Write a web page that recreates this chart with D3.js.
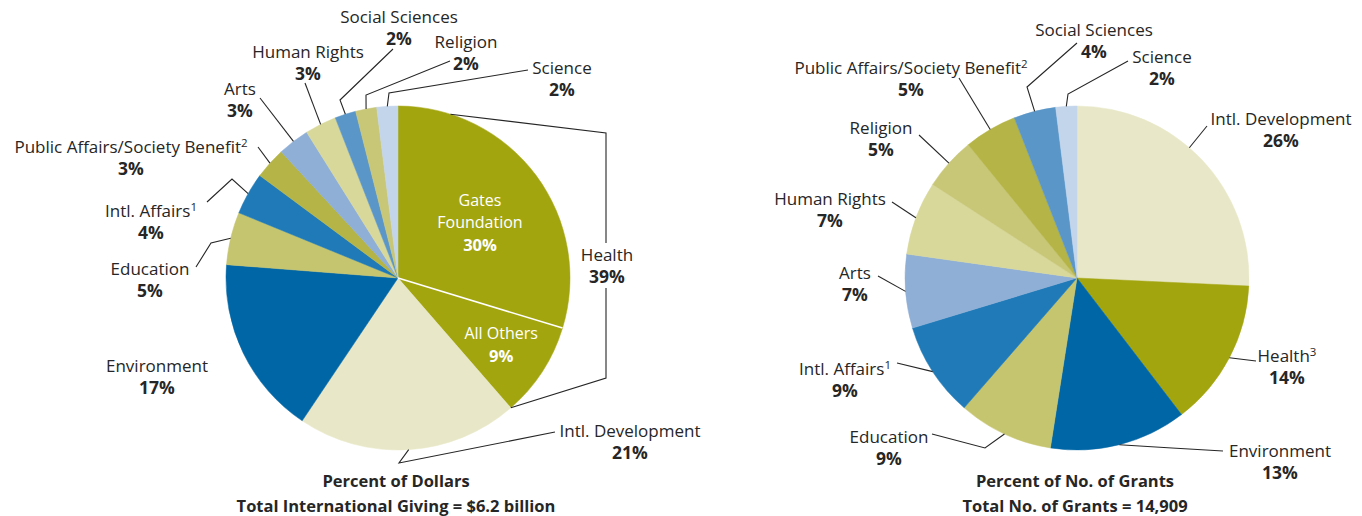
<!DOCTYPE html>
<html>
<head>
<meta charset="utf-8">
<script src="https://cdn.jsdelivr.net/npm/d3@7"></script>
<style>
  body { margin: 0; background: #fff; }
  svg text { font-family: "Open Sans", "Liberation Sans", sans-serif; fill: #262626; }
</style>
</head>
<body>
<svg id="chart" width="1362" height="516"></svg>
<script>
// left pie: percent of dollars
const dollarCats = ["Gates Foundation", "All Others", "Intl. Development", "Environment", "Education",
    "Intl. Affairs", "Public Affairs/Society Benefit", "Arts", "Human Rights", "Social Sciences", "Religion", "Science"];
const dollarValues = [30, 9, 21, 17, 5, 4, 3, 3, 3, 2, 2, 2];

// right pie: percent of number of grants
const grantCats = ["Intl. Development", "Health", "Environment", "Education", "Intl. Affairs", "Arts",
    "Human Rights", "Religion", "Public Affairs/Society Benefit", "Social Sciences", "Science"];
const grantValues = [26, 14, 13, 9, 9, 7, 7, 5, 5, 4, 2];

const captions = [
    ["Percent of Dollars", "Total International Giving = $6.2 billion"],
    ["Percent of No. of Grants", "Total No. of Grants = 14,909"]
];

// footnote marks on some labels
const footnoteMarks = { "Intl. Affairs": "1", "Public Affairs/Society Benefit": "2" };

const palette = {
    "Gates Foundation": "#a3a50f",
    "All Others": "#a3a50f",
    "Health": "#a3a50f",
    "Intl. Development": "#e8e8c9",
    "Environment": "#0066a6",
    "Education": "#c6c56f",
    "Intl. Affairs": "#1f7ab7",
    "Public Affairs/Society Benefit": "#b5b446",
    "Arts": "#8fafd6",
    "Human Rights": "#d8d89b",
    "Social Sciences": "#5b96c8",
    "Religion": "#c8c778",
    "Science": "#c3d5eb"
};

const svg = d3.select("#chart");
const radius = 172;
const fs = 17, fsBold = 17.5;

// label layout for each pie: label centre/baseline, then leader elbows (first point comes from the arc)
const leftLayout = {
    "Intl. Development": { x: 630, y: 437, leader: [[399, 463], [555, 432]] },
    "Environment": { x: 157, y: 372 },
    "Education": { x: 150, y: 275, leader: [[211, 243], [196, 267]] },
    "Intl. Affairs": { x: 151, y: 217, leader: [[232, 179], [207, 202]] },
    "Public Affairs/Society Benefit": { x: 131, y: 153, leader: [[258, 147]] },
    "Arts": { x: 240, y: 95, leader: [[260, 98]] },
    "Human Rights": { x: 308, y: 58, leader: [[305, 83]] },
    "Social Sciences": { x: 399, y: 23, leader: [[340, 100], [393, 49]] },
    "Religion": { x: 466, y: 48, leader: [[366, 95], [450, 61]] },
    "Science": { x: 562, y: 74, leader: [[389, 93], [528, 70]] }
};

const rightLayout = {
    "Intl. Development": { x: 1281, y: 125, at: 0.44, leader: [[1207, 126]] },
    "Health": { x: 1287, y: 362, sup: "3", leader: [[1256, 361]] },
    "Environment": { x: 1280, y: 457, leader: [[1172, 448], [1223, 451]] },
    "Education": { x: 889, y: 443, leader: [[985, 448], [932, 434]] },
    "Intl. Affairs": { x: 845, y: 375, leader: [[897, 363]] },
    "Arts": { x: 855, y: 279, leader: [[878, 276]] },
    "Human Rights": { x: 830, y: 205, leader: [[892, 202]] },
    "Religion": { x: 881, y: 134, leader: [[919, 135]] },
    "Public Affairs/Society Benefit": { x: 911, y: 74, leader: [[959, 78]] },
    "Social Sciences": { x: 1094, y: 36, leader: [[1027, 87], [1077, 43]] },
    "Science": { x: 1162, y: 63, leader: [[1068, 94], [1128, 61]] }
};

function addLabel(g, x, y, name, pct, sup) {
    const t = g.append("text").attr("text-anchor", "middle").attr("font-size", fs);
    t.append("tspan").attr("x", x).attr("y", y).text(name);
    if (sup) {
        t.append("tspan").attr("dy", -6).attr("font-size", 11.5).text(sup);
    }
    g.append("text").attr("text-anchor", "middle").attr("font-size", fsBold).attr("font-weight", "bold")
        .attr("x", x).attr("y", y + 21.5).text(pct);
}

function drawPie(cx, cy, cats, values, layout, caption) {
    const data = cats.map((c, i) => ({ name: c, value: values[i] }));
    const pie = d3.pie().sort(null).value(d => d.value);
    const arcs = pie(data);
    const arc = d3.arc().innerRadius(0).outerRadius(radius);
    const edge = d3.arc().innerRadius(radius).outerRadius(radius);

    const g = svg.append("g").attr("transform", `translate(${cx},${cy})`);
    g.selectAll("path.slice")
        .data(arcs)
        .join("path")
        .attr("class", "slice")
        .attr("d", arc)
        .attr("fill", d => palette[d.data.name])
        .attr("stroke", d => palette[d.data.name])
        .attr("stroke-width", 0.5);

    const line = d3.line();
    const top = svg.append("g");
    arcs.forEach(d => {
        const lay = layout[d.data.name];
        if (!lay) return;
        if (lay.leader) {
            // optional "at" moves the anchor along the slice (0 = start, 1 = end)
            const a = lay.at == null ? (d.startAngle + d.endAngle) / 2
                : d.startAngle + lay.at * (d.endAngle - d.startAngle);
            const p = edge.centroid({ startAngle: a, endAngle: a });
            const pts = [[cx + p[0], cy + p[1]]].concat(lay.leader);
            top.append("path").attr("d", line(pts)).attr("fill", "none")
                .attr("stroke", "#262626").attr("stroke-width", 1.1);
        }
        addLabel(top, lay.x, lay.y, d.data.name, d.data.value + "%", lay.sup || footnoteMarks[d.data.name]);
    });

    top.append("text").attr("text-anchor", "middle").attr("font-size", 16.5).attr("font-weight", "bold")
        .attr("x", cx - 2).attr("y", 487).text(caption[0]);
    top.append("text").attr("text-anchor", "middle").attr("font-size", 16.5).attr("font-weight", "bold")
        .attr("x", cx - 2).attr("y", 512).text(caption[1]);

    return { g, arcs, arc, edge };
}

// left pie
const left = drawPie(398, 278, dollarCats, dollarValues, leftLayout, captions[0]);
{
    const gates = left.arcs[0], others = left.arcs[1];
    // white split between the two health pieces
    const a = gates.endAngle;
    left.g.append("line")
        .attr("x1", 0).attr("y1", 0)
        .attr("x2", radius * Math.sin(a)).attr("y2", -radius * Math.cos(a))
        .attr("stroke", "#fff").attr("stroke-width", 1.6);

    // white labels inside the health slices (slightly smaller so lines don't collide)
    const gt = left.g.append("text").attr("text-anchor", "middle").attr("font-size", 16).style("fill", "#fff");
    gt.append("tspan").attr("x", 82).attr("y", -72).text("Gates");
    gt.append("tspan").attr("x", 82).attr("y", -50).text("Foundation");
    left.g.append("text").attr("text-anchor", "middle").attr("font-size", 16.5).attr("font-weight", "bold")
        .style("fill", "#fff").attr("x", 82).attr("y", -27).text(gates.data.value + "%");

    const op = d3.arc().innerRadius(123).outerRadius(123).centroid(others);
    left.g.append("text").attr("text-anchor", "middle").attr("font-size", 16).style("fill", "#fff")
        .attr("x", op[0]).attr("y", op[1] - 6).text("All Others");
    left.g.append("text").attr("text-anchor", "middle").attr("font-size", 16.5).attr("font-weight", "bold")
        .style("fill", "#fff").attr("x", op[0]).attr("y", op[1] + 17).text(others.data.value + "%");

    // bracket for total health
    const topA = 0.31;
    const p0 = [398 + radius * Math.sin(topA), 278 - radius * Math.cos(topA)];
    const p1 = left.edge.centroid({ startAngle: others.endAngle, endAngle: others.endAngle });
    const bx = 606;
    const line = d3.line();
    svg.append("path").attr("d", line([p0, [bx, 133], [bx, 243]])).attr("fill", "none")
        .attr("stroke", "#262626").attr("stroke-width", 1.1);
    svg.append("path").attr("d", line([[bx, 288], [bx, 378], [398 + p1[0], 278 + p1[1]]])).attr("fill", "none")
        .attr("stroke", "#262626").attr("stroke-width", 1.1);
    addLabel(svg, 607, 261, "Health", (gates.data.value + others.data.value) + "%");
}

// right pie
drawPie(1077, 278, grantCats, grantValues, rightLayout, captions[1]);
</script>
</body>
</html>
